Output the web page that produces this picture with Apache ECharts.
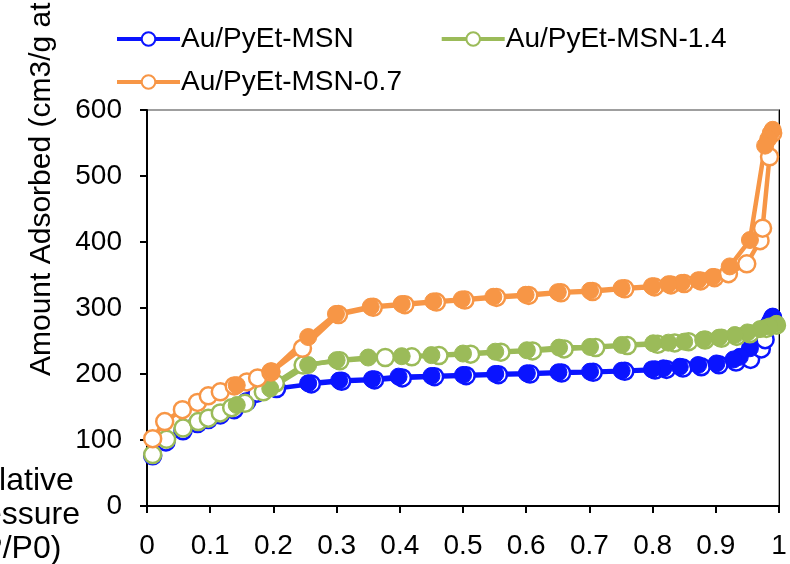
<!DOCTYPE html>
<html>
<head>
<meta charset="utf-8">
<script src="https://cdn.jsdelivr.net/npm/echarts@6/dist/echarts.min.js"></script>
<style>html,body{margin:0;padding:0;background:#fff;}#c{width:790px;height:564px;}</style>
</head>
<body>
<div id="c"></div>
<script>
// Series names
var names = ['Au/PyEt-MSN', 'Au/PyEt-MSN-1.4', 'Au/PyEt-MSN-0.7'];
// Axis ticks
var xTicks = [0, 0.1, 0.2, 0.3, 0.4, 0.5, 0.6, 0.7, 0.8, 0.9, 1];
var yTicks = [0, 100, 200, 300, 400, 500, 600];

// Au/PyEt-MSN adsorption (open) / desorption (filled)
var blueAdsP = [0.009,0.030,0.057,0.080,0.097,0.116,0.138,0.158,0.174,0.205,0.260,0.308,0.360,0.404,0.455,0.505,0.556,0.606,0.656,0.706,0.756,0.804,0.822,0.848,0.877,0.905,0.932,0.955,0.972,0.978,0.990];
var blueAdsV = [76,97,114,125,131,138,146,158,171,178,185,189,191,194,196,197.5,199,200,201.5,202.5,204,206,207,209,211,214,218,222,238,252,285];
var blueDesP = [0.990,0.986,0.980,0.954,0.938,0.928,0.901,0.872,0.843,0.817,0.799,0.751,0.701,0.651,0.601,0.551,0.500,0.450,0.398,0.356,0.304,0.255];
var blueDesV = [287,280,272,239,226,222,216,213.6,211,208.6,207,205,203.5,202.6,201,200,198.5,197,196,192,190,186];

// Au/PyEt-MSN-1.4
var greenAdsP = [0.009,0.031,0.057,0.081,0.097,0.116,0.134,0.155,0.184,0.203,0.247,0.305,0.377,0.419,0.462,0.512,0.560,0.610,0.660,0.710,0.760,0.808,0.835,0.857,0.883,0.909,0.933,0.954,0.980,0.996];
var greenAdsV = [78,101,118,128,133,141,149,155.5,173,186,213.6,220,225,226,228,230,233,235,238,240,243,245,247,249,251.5,254,257,261,269,274];
var greenDesP = [0.996,0.985,0.970,0.950,0.930,0.905,0.880,0.850,0.825,0.801,0.751,0.701,0.652,0.601,0.551,0.500,0.450,0.403,0.350,0.300,0.255,0.195,0.142];
var greenDesV = [276,272,268,263,259,255,252,249,247.5,246.5,244,241,240,236,233.8,231,228.6,227,225,221,213.6,178,153];

// Au/PyEt-MSN-0.7
var orangeAdsP = [0.009,0.028,0.056,0.080,0.097,0.116,0.138,0.158,0.175,0.196,0.246,0.303,0.358,0.408,0.458,0.503,0.553,0.604,0.655,0.705,0.756,0.803,0.829,0.850,0.876,0.898,0.920,0.949,0.970,0.974,0.985,0.990];
var orangeAdsV = [102,128,146,157,167,173,182,188,194,203,239,290,301,305,309,312,316,319,323,325,329,332,335,337,341,346,352,367,402,421,529,565];
var orangeDesP = [0.990,0.987,0.983,0.978,0.954,0.922,0.895,0.872,0.846,0.825,0.799,0.751,0.701,0.650,0.599,0.548,0.498,0.453,0.403,0.354,0.299,0.255,0.197,0.142];
var orangeDesV = [570,565,556,546,403,363,347,342,338,336,333,330,326,324,320,317,313,310,306,302,291,256,204,183];

var colors = ['#0a14ff', '#9bbb59', '#f79646'];

function pairs(p, v) { return p.map(function (x, i) { return [x, v[i]]; }); }

var FONT = 'Liberation Sans, Arial, sans-serif';
var FS = 28;

function mk(name, data, color, open) {
  return {
    type: 'line',
    name: name,
    data: data,
    symbol: 'circle',
    symbolSize: 17,
    showSymbol: true,
    lineStyle: { color: color, width: 4.5 },
    itemStyle: open ? { color: '#ffffff', borderColor: color, borderWidth: 2.5 }
                    : { color: color, borderColor: color, borderWidth: 1 },
    emphasis: { disabled: true },
    animation: false,
    z: 2
  };
}

var series = [
  mk(names[0], pairs(blueAdsP, blueAdsV), colors[0], true),
  mk(names[0] + ' des', pairs(blueDesP, blueDesV), colors[0], false),
  mk(names[1], pairs(greenAdsP, greenAdsV), colors[1], true),
  mk(names[1] + ' des', pairs(greenDesP, greenDesV), colors[1], false),
  mk(names[2], pairs(orangeAdsP, orangeAdsV), colors[2], true),
  mk(names[2] + ' des', pairs(orangeDesP, orangeDesV), colors[2], false)
];

var chart = echarts.init(document.getElementById('c'), null, { renderer: 'canvas' });
var legendCommon = {
  itemWidth: 63, itemHeight: 17, itemGap: 86,
  lineStyle: { width: 4 },
  textStyle: { fontFamily: FONT, fontSize: FS, color: '#000', padding: [0, 0, 0, -4] },
  selectedMode: false
};
chart.setOption({
  animation: false,
  backgroundColor: '#fff',
  legend: [
    Object.assign({ data: [names[0], names[1]], left: 110, top: 20 }, legendCommon),
    Object.assign({ data: [names[2]], left: 110, top: 63 }, legendCommon)
  ],
  grid: { left: 147, right: 11, top: 110, bottom: 58, show: true, borderColor: '#808080', borderWidth: 1.5, containLabel: false },
  xAxis: {
    type: 'value', min: xTicks[0], max: xTicks[xTicks.length - 1], interval: 0.1,
    axisLine: { show: true, onZero: false, lineStyle: { color: '#000', width: 2 } },
    axisTick: { show: true, length: 7, lineStyle: { color: '#000', width: 2 } },
    axisLabel: { fontFamily: FONT, fontSize: FS, color: '#000', margin: 26,
      formatter: function (v) { return String(Math.round(v * 10) / 10); } },
    splitLine: { show: false }
  },
  yAxis: [{
    type: 'value', min: yTicks[0], max: yTicks[yTicks.length - 1], interval: 100,
    axisLine: { show: true, lineStyle: { color: '#000', width: 2 } },
    axisTick: { show: true, length: 7, lineStyle: { color: '#000', width: 2 } },
    axisLabel: { fontFamily: FONT, fontSize: FS, color: '#000', margin: 25 },
    splitLine: { show: false }
  }, {
    type: 'value', position: 'right', min: yTicks[0], max: yTicks[yTicks.length - 1], interval: 100,
    axisLine: { show: true, lineStyle: { color: '#000', width: 1 } },
    axisTick: { show: false }, axisLabel: { show: false }, splitLine: { show: false }
  }],
  graphic: [
    { type: 'text', x: 42, y: 376, rotation: Math.PI / 2,
      style: { text: 'Amount Adsorbed (cm3/g at STP)', font: '30px ' + FONT, fill: '#000',
        textAlign: 'left', textVerticalAlign: 'middle' } },
    { type: 'text', x: 16, y: 515,
      style: { text: 'Relative\nPressure\n(P/P0)', font: '32px ' + FONT, fill: '#000',
        textAlign: 'center', textVerticalAlign: 'middle', lineHeight: 34 } }
  ],
  series: series
});
</script>
</body>
</html>
